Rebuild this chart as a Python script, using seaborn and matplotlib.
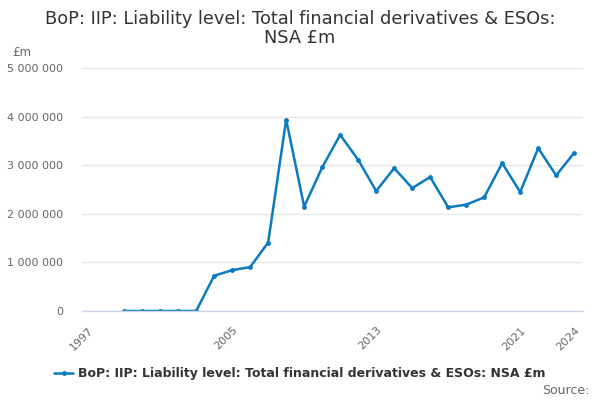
import pandas as pd
import seaborn as sns
import matplotlib.pyplot as plt
from matplotlib.ticker import FuncFormatter
from matplotlib.lines import Line2D

years = list(range(1999, 2025))
values = [0, 0, 0, 0, 0,
          725000, 841000, 903000, 1409000, 3938000,
          2147000, 2954000, 3624000, 3111000, 2468000,
          2940000, 2530000, 2756000, 2133000, 2188000,
          2338000, 3043000, 2448000, 3350000, 2790000, 3255000]
series_name = 'BoP: IIP: Liability level: Total financial derivatives & ESOs: NSA £m'
tick_years = list(range(1997, 2022, 2)) + [2024]
label_years = [1997, 2005, 2013, 2021, 2024]

df = pd.DataFrame({'year': years, 'value': values})

sns.set_theme(style='white')
plt.rcParams['font.family'] = ['DejaVu Sans']

line_color = '#0a7bc1'

fig = plt.figure(figsize=(6, 4), dpi=100)
ax = fig.add_axes([0.137, 0.2225, 0.835, 0.6075])

sns.lineplot(x='year', y='value', data=df, ax=ax, color=line_color,
             linewidth=1.8, marker='o', markersize=3.5, markeredgewidth=0)

ax.set_xlim(1996.67, 2024.5)
ax.set_ylim(0, 5000000)
ax.set_yticks(range(0, 5000001, 1000000))
ax.yaxis.set_major_formatter(FuncFormatter(lambda v, p: f'{int(v):,}'.replace(',', ' ')))
ax.set_xticks(tick_years)
ax.set_xticklabels([str(y) if y in label_years else '' for y in tick_years],
                   rotation=45, ha='right', rotation_mode='anchor')

ax.grid(axis='y', color='#e6e6e6', linewidth=1)
ax.grid(axis='x', visible=False)
for s in ['top', 'right', 'left']:
    ax.spines[s].set_visible(False)
ax.spines['bottom'].set_color('#ccd6eb')
ax.spines['bottom'].set_linewidth(1)
ax.tick_params(axis='x', colors='#ccd6eb', length=8, width=1, direction='out',
               labelcolor='#666666', labelsize=8, pad=2)
ax.tick_params(axis='y', length=0, labelcolor='#666666', labelsize=8, pad=14)
ax.set_xlabel('')
ax.set_ylabel('')

fig.text(0.5, 0.975, 'BoP: IIP: Liability level: Total financial derivatives & ESOs:\nNSA £m',
         ha='center', va='top', fontsize=12.8, color='#333333', linespacing=1.1)
fig.text(0.02, 0.868, '£m', ha='left', va='center', fontsize=8.5, color='#666666')

handle = Line2D([], [], color=line_color, linewidth=1.8, marker='o', markersize=3.5,
                markeredgewidth=0)
fig.legend([handle], [series_name], loc='center', bbox_to_anchor=(0.5, 0.065),
           frameon=False, handlelength=1.5, handletextpad=0.4,
           prop={'weight': 'bold', 'size': 9})
for t in fig.legends[0].get_texts():
    t.set_color('#333333')

fig.text(0.983, 0.025, 'Source:', ha='right', va='center', fontsize=9, color='#666666')

plt.savefig('out.png', dpi=100)
